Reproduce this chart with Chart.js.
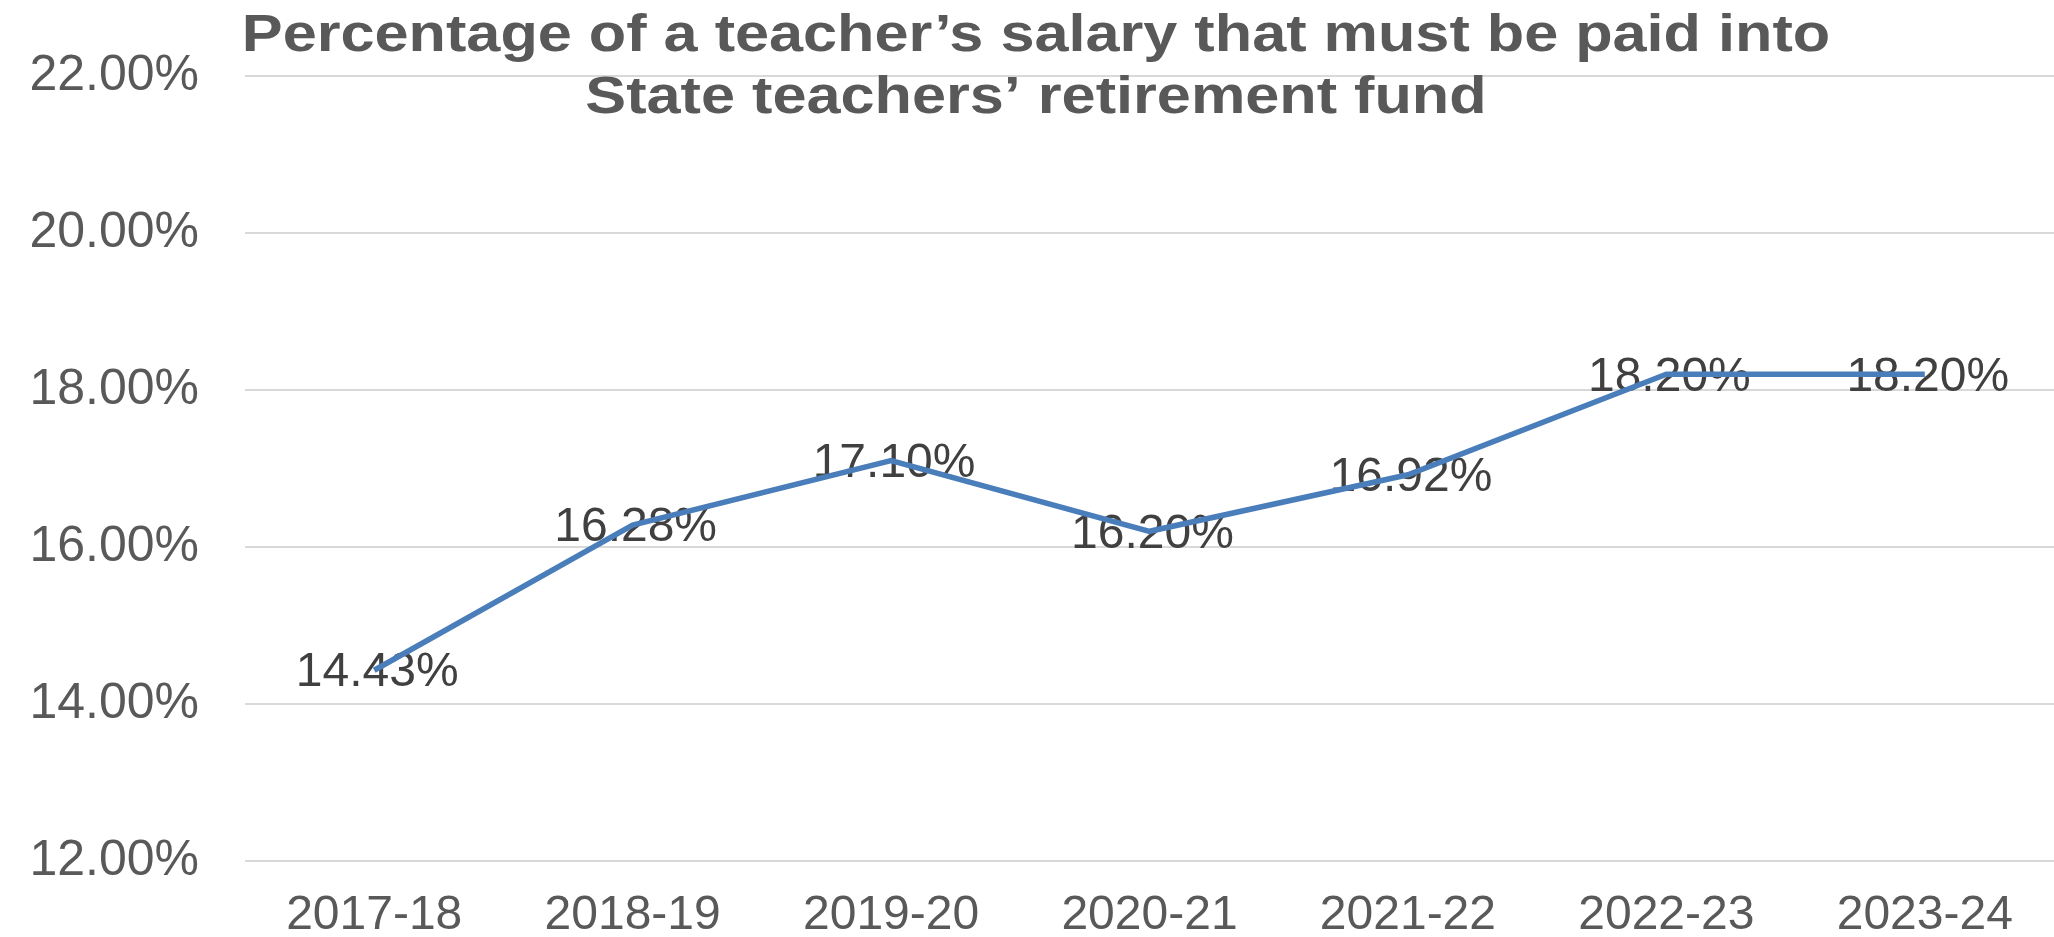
<!DOCTYPE html>
<html>
<head>
<meta charset="utf-8">
<title>Teacher retirement contribution</title>
<script src="https://cdn.jsdelivr.net/npm/chart.js@4.4.0/dist/chart.umd.min.js"></script>
<style>
    html, body { margin: 0; padding: 0; background: #ffffff; }
    #chartBox { width: 2054px; height: 937px; }
</style>
</head>
<body>
<div id="chartBox">
    <canvas id="rateChart" width="2054" height="937"></canvas>
</div>
<script>
// chart data
const years = ['2017-18', '2018-19', '2019-20', '2020-21', '2021-22', '2022-23', '2023-24'];
const rates = [14.43, 16.28, 17.10, 16.20, 16.92, 18.20, 18.20];
const yTicks = [12, 14, 16, 18, 20, 22];
const titleLines = [
    'Percentage of a teacher\u2019s salary that must be paid into',
    'State teachers\u2019 retirement fund'
];

const FONT = '"Liberation Sans", Arial, sans-serif';

// labels sit on the points, the line is drawn over them
const pointLabels = {
    id: 'pointLabels',
    beforeDatasetsDraw(chart) {
        const ctx = chart.ctx;
        const meta = chart.getDatasetMeta(0);
        ctx.save();
        ctx.font = '48px ' + FONT;
        ctx.fillStyle = '#404040';
        ctx.textAlign = 'center';
        ctx.textBaseline = 'middle';
        meta.data.forEach((pt, i) => {
            ctx.fillText(rates[i].toFixed(2) + '%', pt.x + 3, pt.y + 3);
        });
        ctx.restore();
    }
};

// title overlaps the top of the plot, so draw it by hand (a bit wide, like the original)
const overlayTitle = {
    id: 'overlayTitle',
    afterDraw(chart) {
        const ctx = chart.ctx;
        const stretch = 1.2;
        ctx.save();
        ctx.font = 'bold 51px ' + FONT;
        ctx.fillStyle = '#595959';
        ctx.textAlign = 'center';
        ctx.textBaseline = 'alphabetic';
        const cx = chart.width / 2 + 9;
        ctx.scale(stretch, 1);
        titleLines.forEach((line, i) => {
            ctx.fillText(line, cx / stretch, 51 + i * 62);
        });
        ctx.restore();
    }
};

document.addEventListener('DOMContentLoaded', function() {
    new Chart(document.getElementById('rateChart'), {
        type: 'line',
        data: {
            labels: years,
            datasets: [{
                data: rates,
                borderColor: '#4a7ebb',
                borderWidth: 5.5,
                pointRadius: 0,
                pointHoverRadius: 0,
                tension: 0,
                fill: false
            }]
        },
        options: {
            responsive: false,
            animation: false,
            devicePixelRatio: 1,
            layout: {
                padding: { top: 70, left: 0, right: 0, bottom: 0 }
            },
            plugins: {
                legend: { display: false },
                title: { display: false },
                tooltip: { enabled: false }
            },
            scales: {
                x: {
                    offset: true,
                    grid: { display: false, drawTicks: false },
                    border: { display: false },
                    // fixed band for the year labels
                    afterFit: function(axis) {
                        axis.height = 69;
                    },
                    ticks: {
                        color: '#595959',
                        padding: 26,
                        maxRotation: 0,
                        font: { family: FONT, size: 48, lineHeight: 1.2 }
                    }
                },
                y: {
                    min: yTicks[0],
                    max: yTicks[yTicks.length - 1],
                    afterBuildTicks: function(axis) {
                        axis.ticks = yTicks.map(v => ({ value: v }));
                    },
                    afterFit: function(axis) {
                        axis.width = 245;
                    },
                    grid: { color: '#d9d9d9', lineWidth: 2, drawTicks: false },
                    border: { display: false },
                    ticks: {
                        color: '#595959',
                        padding: 46,
                        font: { family: FONT, size: 50 },
                        callback: function(value) {
                            return value.toFixed(2) + '%';
                        }
                    }
                }
            }
        },
        plugins: [pointLabels, overlayTitle]
    });
});
</script>
</body>
</html>
